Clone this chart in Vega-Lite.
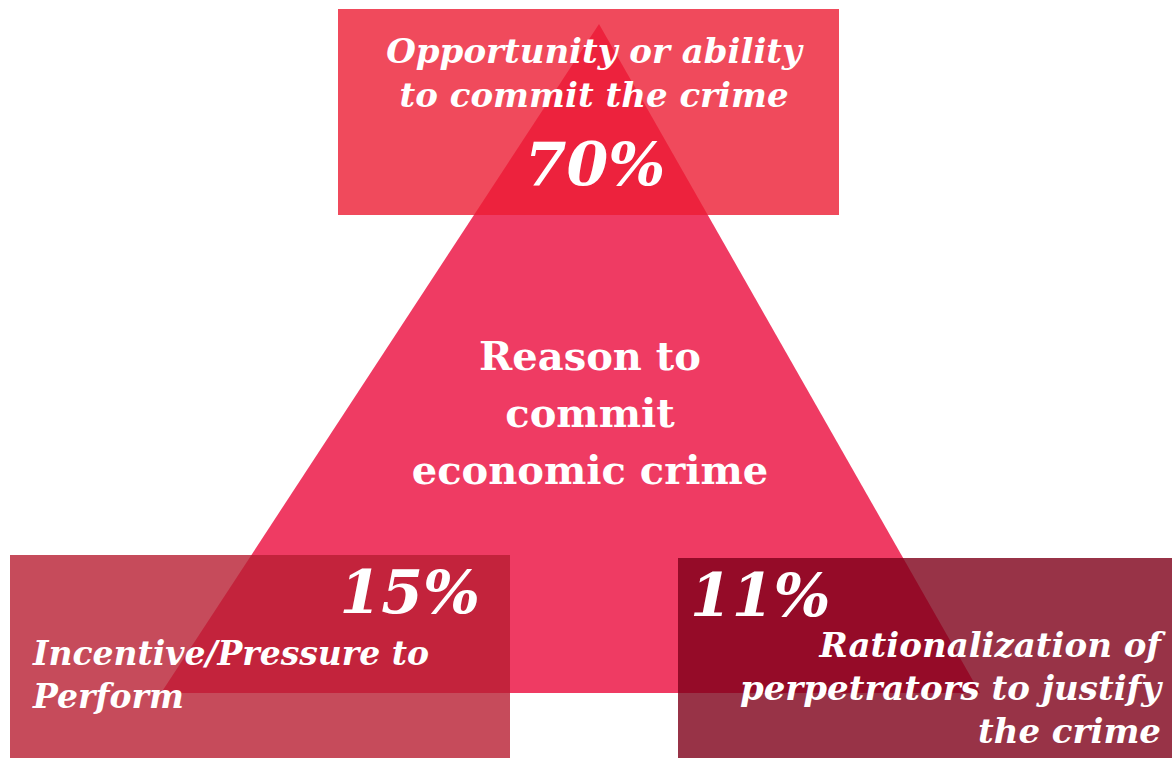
{
  "$schema": "https://vega.github.io/schema/vega-lite/v6.json",
  "width": 1172,
  "height": 758,
  "autosize": {"type": "none"},
  "padding": 0,
  "background": "white",
  "config": {"view": {"stroke": null}},
  "datasets": {
    "tri": [
      {"x": 161, "y": 693, "y2": 693},
      {"x": 599, "y": 24, "y2": 693},
      {"x": 980, "y": 693, "y2": 693}
    ],
    "boxes": [
      {"box": "Opportunity", "x": 338, "x2": 839, "y": 9, "y2": 215},
      {"box": "Incentive", "x": 10, "x2": 510, "y": 555, "y2": 758},
      {"box": "Rationalization", "x": 678, "x2": 1172, "y": 558, "y2": 758}
    ],
    "labels": [
      {"box": "Opportunity", "x": 594, "y": 63, "label": "Opportunity or ability\nto commit the crime", "side": "center"},
      {"box": "Incentive", "x": 33, "y": 665, "label": "Incentive/Pressure to\nPerform", "side": "left"},
      {"box": "Rationalization", "x": 1161, "y": 657, "label": "Rationalization of\nperpetrators to justify\nthe crime", "side": "right"}
    ],
    "pcts": [
      {"box": "Opportunity", "x": 595, "y": 185, "label": "70%", "side": "center"},
      {"box": "Incentive", "x": 480, "y": 613, "label": "15%", "side": "right"},
      {"box": "Rationalization", "x": 690, "y": 616, "label": "11%", "side": "left"}
    ],
    "center": [
      {"x": 590, "y": 370, "label": "Reason to\ncommit\neconomic crime"}
    ]
  },
  "layer": [
    {
      "data": {"name": "tri"},
      "mark": {"type": "area", "color": "#EF3B63", "interpolate": "linear"},
      "encoding": {
        "x": {"field": "x", "type": "quantitative", "scale": {"domain": [0, 1172], "nice": false, "zero": false}, "axis": null},
        "y": {"field": "y", "type": "quantitative", "scale": {"domain": [0, 758], "nice": false, "zero": false, "reverse": true}, "axis": null},
        "y2": {"field": "y2"}
      }
    },
    {
      "data": {"name": "boxes"},
      "mark": {"type": "rect", "opacity": 0.8},
      "encoding": {
        "x": {"field": "x", "type": "quantitative", "scale": {"domain": [0, 1172], "nice": false, "zero": false}, "axis": null},
        "x2": {"field": "x2"},
        "y": {"field": "y", "type": "quantitative", "scale": {"domain": [0, 758], "nice": false, "zero": false, "reverse": true}, "axis": null},
        "y2": {"field": "y2"},
        "color": {"field": "box", "type": "nominal", "scale": {"domain": ["Opportunity", "Incentive", "Rationalization"], "range": ["#EC1D33", "#B81E32", "#7E0019"]}, "legend": null}
      }
    },
    {
      "data": {"name": "center"},
      "mark": {"type": "text", "font": "DejaVu Serif", "fontSize": 40, "fontWeight": "bold", "color": "white", "align": "center", "baseline": "alphabetic", "lineBreak": "\n", "lineHeight": 57},
      "encoding": {
        "x": {"field": "x", "type": "quantitative", "scale": {"domain": [0, 1172], "nice": false, "zero": false}, "axis": null},
        "y": {"field": "y", "type": "quantitative", "scale": {"domain": [0, 758], "nice": false, "zero": false, "reverse": true}, "axis": null},
        "text": {"field": "label", "type": "nominal"}
      }
    },
    {
      "data": {"name": "labels"},
      "transform": [{"filter": "datum.side == 'center'"}],
      "mark": {"type": "text", "font": "DejaVu Serif", "fontSize": 34, "fontWeight": "bold", "fontStyle": "italic", "color": "white", "align": "center", "baseline": "alphabetic", "lineBreak": "\n", "lineHeight": 44},
      "encoding": {
        "x": {"field": "x", "type": "quantitative", "scale": {"domain": [0, 1172], "nice": false, "zero": false}, "axis": null},
        "y": {"field": "y", "type": "quantitative", "scale": {"domain": [0, 758], "nice": false, "zero": false, "reverse": true}, "axis": null},
        "text": {"field": "label", "type": "nominal"}
      }
    },
    {
      "data": {"name": "labels"},
      "transform": [{"filter": "datum.side == 'left'"}],
      "mark": {"type": "text", "font": "DejaVu Serif", "fontSize": 33, "fontWeight": "bold", "fontStyle": "italic", "color": "white", "align": "left", "baseline": "alphabetic", "lineBreak": "\n", "lineHeight": 43},
      "encoding": {
        "x": {"field": "x", "type": "quantitative", "scale": {"domain": [0, 1172], "nice": false, "zero": false}, "axis": null},
        "y": {"field": "y", "type": "quantitative", "scale": {"domain": [0, 758], "nice": false, "zero": false, "reverse": true}, "axis": null},
        "text": {"field": "label", "type": "nominal"}
      }
    },
    {
      "data": {"name": "labels"},
      "transform": [{"filter": "datum.side == 'right'"}],
      "mark": {"type": "text", "font": "DejaVu Serif", "fontSize": 34, "fontWeight": "bold", "fontStyle": "italic", "color": "white", "align": "right", "baseline": "alphabetic", "lineBreak": "\n", "lineHeight": 43},
      "encoding": {
        "x": {"field": "x", "type": "quantitative", "scale": {"domain": [0, 1172], "nice": false, "zero": false}, "axis": null},
        "y": {"field": "y", "type": "quantitative", "scale": {"domain": [0, 758], "nice": false, "zero": false, "reverse": true}, "axis": null},
        "text": {"field": "label", "type": "nominal"}
      }
    },
    {
      "data": {"name": "pcts"},
      "transform": [{"filter": "datum.side == 'center'"}],
      "mark": {"type": "text", "font": "DejaVu Serif", "fontSize": 60, "fontWeight": "bold", "fontStyle": "italic", "color": "white", "align": "center", "baseline": "alphabetic"},
      "encoding": {
        "x": {"field": "x", "type": "quantitative", "scale": {"domain": [0, 1172], "nice": false, "zero": false}, "axis": null},
        "y": {"field": "y", "type": "quantitative", "scale": {"domain": [0, 758], "nice": false, "zero": false, "reverse": true}, "axis": null},
        "text": {"field": "label", "type": "nominal"}
      }
    },
    {
      "data": {"name": "pcts"},
      "transform": [{"filter": "datum.side == 'right'"}],
      "mark": {"type": "text", "font": "DejaVu Serif", "fontSize": 60, "fontWeight": "bold", "fontStyle": "italic", "color": "white", "align": "right", "baseline": "alphabetic"},
      "encoding": {
        "x": {"field": "x", "type": "quantitative", "scale": {"domain": [0, 1172], "nice": false, "zero": false}, "axis": null},
        "y": {"field": "y", "type": "quantitative", "scale": {"domain": [0, 758], "nice": false, "zero": false, "reverse": true}, "axis": null},
        "text": {"field": "label", "type": "nominal"}
      }
    },
    {
      "data": {"name": "pcts"},
      "transform": [{"filter": "datum.side == 'left'"}],
      "mark": {"type": "text", "font": "DejaVu Serif", "fontSize": 60, "fontWeight": "bold", "fontStyle": "italic", "color": "white", "align": "left", "baseline": "alphabetic"},
      "encoding": {
        "x": {"field": "x", "type": "quantitative", "scale": {"domain": [0, 1172], "nice": false, "zero": false}, "axis": null},
        "y": {"field": "y", "type": "quantitative", "scale": {"domain": [0, 758], "nice": false, "zero": false, "reverse": true}, "axis": null},
        "text": {"field": "label", "type": "nominal"}
      }
    }
  ]
}
